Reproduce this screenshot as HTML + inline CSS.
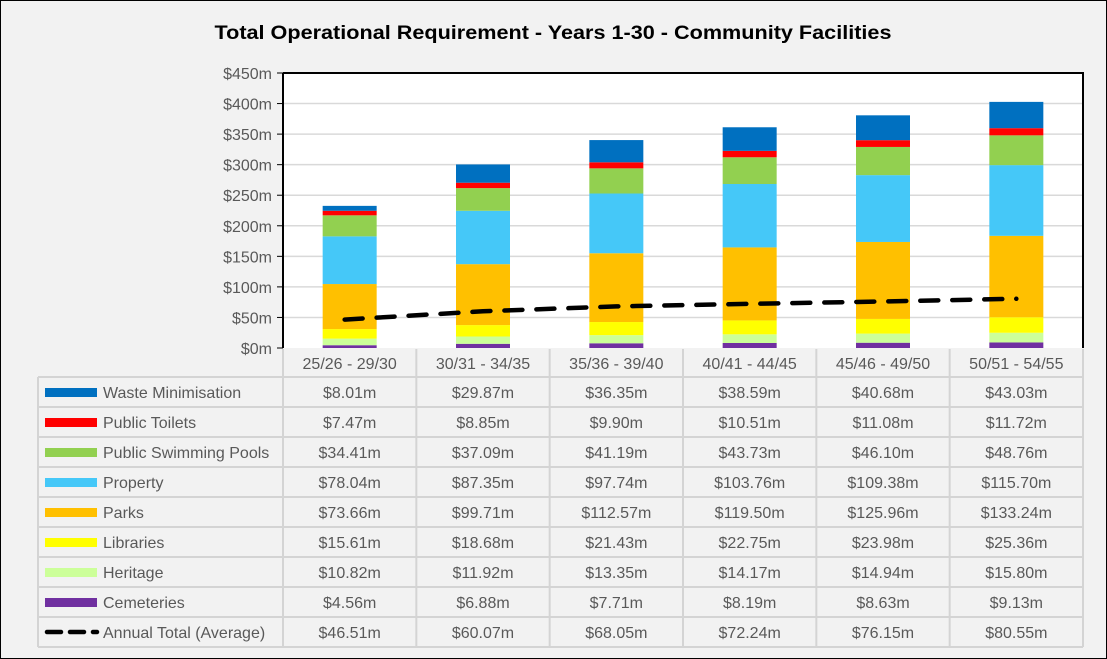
<!DOCTYPE html>
<html><head><meta charset="utf-8"><style>
html,body{margin:0;padding:0;background:#f2f2f2}
svg{display:block;font-family:"Liberation Sans",sans-serif}
</style></head><body>
<svg id="c" width="1107" height="659"></svg>
<script>
const categories=["25/26 - 29/30","30/31 - 34/35","35/36 - 39/40","40/41 - 44/45","45/46 - 49/50","50/51 - 54/55"];
const seriesNames=["Waste Minimisation","Public Toilets","Public Swimming Pools","Property","Parks","Libraries","Heritage","Cemeteries"];
const seriesColors=["#0070c0","#ff0000","#92d050","#45c8f8","#ffc000","#ffff00","#ccff99","#7030a0"];
const waste=[8.01,29.87,36.35,38.59,40.68,43.03];
const toilets=[7.47,8.85,9.90,10.51,11.08,11.72];
const pools=[34.41,37.09,41.19,43.73,46.10,48.76];
const property=[78.04,87.35,97.74,103.76,109.38,115.70];
const parks=[73.66,99.71,112.57,119.50,125.96,133.24];
const libraries=[15.61,18.68,21.43,22.75,23.98,25.36];
const heritage=[10.82,11.92,13.35,14.17,14.94,15.80];
const cemeteries=[4.56,6.88,7.71,8.19,8.63,9.13];
const average=[46.51,60.07,68.05,72.24,76.15,80.55];
const yTicks=[0,50,100,150,200,250,300,350,400,450];
const series=[waste,toilets,pools,property,parks,libraries,heritage,cemeteries];

const svg=document.getElementById('c');
const NS="http://www.w3.org/2000/svg";
function mk(t,a,p){const e=document.createElementNS(NS,t);for(const k in a)e.setAttribute(k,a[k]);(p||svg).appendChild(e);return e;}
const X0=283,X1=1083,Y0=348,Y1=73,YMAX=450;
const colW=(X1-X0)/categories.length;
const y=v=>Y0-(v/YMAX)*(Y0-Y1);
const xc=i=>X0+colW*(i+0.5);

let r=mk('rect',{x:0.5,y:0.5,width:1106,height:658,fill:'#f2f2f2',stroke:'#000'});

let t=mk('text',{x:553,y:39,'text-anchor':'middle','font-size':19,'font-weight':'bold',fill:'#000',textLength:677,lengthAdjust:'spacingAndGlyphs'});
t.textContent="Total Operational Requirement - Years 1-30 - Community Facilities";

r=mk('rect',{x:X0,y:Y1,width:X1-X0,height:Y0-Y1,fill:'#fff'});

yTicks.forEach(v=>{
  if(v>0){const g=mk('line',{x1:X0,x2:X1,y1:y(v),y2:y(v),stroke:'#d9d9d9','stroke-width':1.5});
  }
  const tl=mk('text',{x:272,y:y(v)+6,'text-anchor':'end','font-size':16,fill:'#595959'});
  tl.textContent='$'+v+'m';
  
  const tk=mk('line',{x1:277,x2:X0,y1:y(v),y2:y(v),stroke:'#000'});
  
});
categories.forEach((c,i)=>{
  let base=0;
  for(let s=series.length-1;s>=0;s--){
    const v=series[s][i];
    const b=mk('rect',{x:xc(i)-27,y:y(base+v),width:54,height:y(base)-y(base+v),fill:seriesColors[s]});
    
    
    base+=v;
  }
});
let pts=average.map((v,i)=>(i==0?xc(i)-5:xc(i))+','+y(v)).join(' ');
let ln=mk('polyline',{points:pts,fill:'none',stroke:'#000','stroke-width':4.5,'stroke-dasharray':'18 14','stroke-linecap':'round'});

let ax=mk('path',{d:`M${X0} ${Y1}H${X1}V${Y0}M${X0} ${Y1}V${Y0}`,fill:'none',stroke:'#000','stroke-width':2});


const TG='#d4d4d4';
const hy=349,rh=30,ty=377;
categories.forEach((c,i)=>{
  const h=mk('text',{x:xc(i),y:hy+20,'text-anchor':'middle','font-size':16,fill:'#595959'});
  h.textContent=c;
  
});
const rows=seriesNames.concat(["Annual Total (Average)"]);
const rowData=series.concat([average]);
for(let k=0;k<=categories.length;k++){
  const l=mk('line',{x1:X0+colW*k,x2:X0+colW*k,y1:hy,y2:ty+rh*rows.length,stroke:TG,'stroke-width':2});
  
}
let l0=mk('line',{x1:38,x2:38,y1:ty,y2:ty+rh*rows.length,stroke:TG,'stroke-width':2});

for(let k=0;k<=rows.length;k++){
  const l=mk('line',{x1:38,x2:X1,y1:ty+rh*k,y2:ty+rh*k,stroke:TG,'stroke-width':2});
  
}
rows.forEach((n,k)=>{
  const cy=ty+rh*k+15;
  if(k<seriesNames.length){
    const sw=mk('rect',{x:45,y:cy-4,width:52,height:9,fill:seriesColors[k]});
    
  } else {
    const sw=mk('line',{x1:47,x2:97,y1:cy,y2:cy,stroke:'#000','stroke-width':4.5,'stroke-dasharray':'14 9','stroke-linecap':'round'});
    
  }
  const lt=mk('text',{x:103,y:cy+6,'font-size':16,fill:'#595959'});
  lt.textContent=n;
  
  rowData[k].forEach((v,i)=>{
    const vt=mk('text',{x:xc(i),y:cy+6,'text-anchor':'middle','font-size':16,fill:'#595959'});
    vt.textContent='$'+v.toFixed(2)+'m';
    
  });
});
</script>
</body></html>
